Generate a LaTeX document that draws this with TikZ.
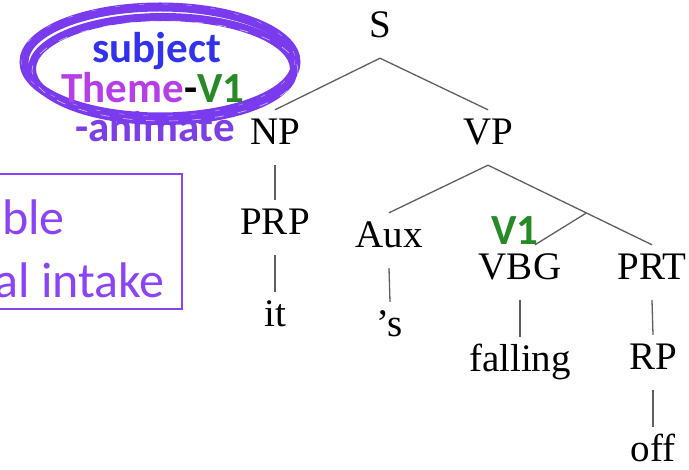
\documentclass[tikz,border=0pt]{standalone}
\usepackage{fontspec}
\setmainfont{Liberation Serif}
\newfontfamily\calib{Carlito}
\usepackage{tikz}
\usetikzlibrary{calc, positioning}

\definecolor{brushpurple}{RGB}{122,58,238}
\definecolor{boxpurple}{RGB}{138,68,245}
\definecolor{subjblue}{RGB}{50,50,238}
\definecolor{themepink}{RGB}{182,62,232}
\definecolor{vgreen}{RGB}{38,138,38}
\definecolor{animpurple}{RGB}{126,62,230}
\definecolor{branchgray}{RGB}{95,95,95}

\begin{document}
\begin{tikzpicture}[
    x=1pt, y=-1pt,
    cat/.style={anchor=base, font=\fontsize{39}{39}\selectfont, text height=27pt, text depth=12pt, inner ysep=8pt, inner xsep=2pt},
    branch/.style={draw=branchgray, line width=1.3pt},
    tag/.style={anchor=base, inner sep=0pt, font=\calib\bfseries\fontsize{43}{43}\selectfont},
    boxtext/.style={anchor=base east, inner sep=0pt, text=boxpurple, font=\calib\fontsize{50}{50}\selectfont},
    brush/.style={draw=brushpurple, line cap=round}
]
    \useasboundingbox (0,0) rectangle (689,470);

    % --- Cây cú pháp (Nodes) ---
    \node[cat] (S)   at (380,38)  {S};
    \node[cat] (NP)  at (275,145) {NP};
    \node[cat] (VP)  at (488,145) {VP};
    \node[cat] (PRP) at (275,235) {PRP};
    \node[cat] (it)  at (275,327) {it};
    \node[cat] (Aux) at (389,248) {Aux};
    \node[cat] (s)   at (390,337) {'s};
    \node[cat] (VBG) at (520,280) {VBG};
    \node[cat] (fall) at (520,372) {falling};
    \node[cat] (PRT) at (652,280) {PRT};
    \node[cat] (RP)  at (653,370) {RP};
    \node[cat] (off) at (653,462) {off};

    % --- Nhánh (Branches) ---
    \draw[branch] (S.south) -- (NP.north);
    \draw[branch] (S.south) -- (VP.north);
    \draw[branch] (NP.south) -- (PRP.north);
    \draw[branch] (PRP.south) -- (it.north);
    \draw[branch] (VP.south) -- (Aux.north);
    \draw[branch] (VP.south) -- coordinate[pos=0.6] (fork) (PRT.north);
    \draw[branch] (fork) -- ([xshift=15pt]VBG.north);
    \draw[branch] (Aux.south) -- (s.north);
    \draw[branch] (VBG.south) -- (fall.north);
    \draw[branch] (PRT.south) -- (RP.north);
    \draw[branch] (RP.south) -- (off.north);

    \node[tag, text=vgreen] (v1) at (515,245) {V1};

    % --- Nhãn chủ ngữ và vòng bút (Annotation) ---
    \node[tag, text=animpurple] (anim) at (155,142) {-animate};

    \draw[brush, line width=9pt] (160,62) ellipse [x radius=136, y radius=55];
    \draw[brush, line width=8pt] (163,69) ellipse [x radius=131, y radius=52];
    \draw[white, line width=0.6pt, opacity=0.7, dash pattern=on 9pt off 14pt] (165,71) ellipse [x radius=133, y radius=50];
    \draw[white, line width=0.5pt, opacity=0.5, dash pattern=on 5pt off 19pt] (158,60) ellipse [x radius=137, y radius=56];

    \node[tag, text=subjblue] (subj) at (157,63) {subject};
    \node[tag] (theme) at (153,103) {\textcolor{themepink}{Theme}-\textcolor{vgreen}{V1}};

    % --- Hộp bên trái (Box) ---
    \draw[boxpurple, line width=2pt] (-10,174) rectangle (182,309);
    \node[boxtext] (ble) at (65,235) {ble};
    \node[boxtext] (intake) at (165,298) {al intake};
\end{tikzpicture}
\end{document}
